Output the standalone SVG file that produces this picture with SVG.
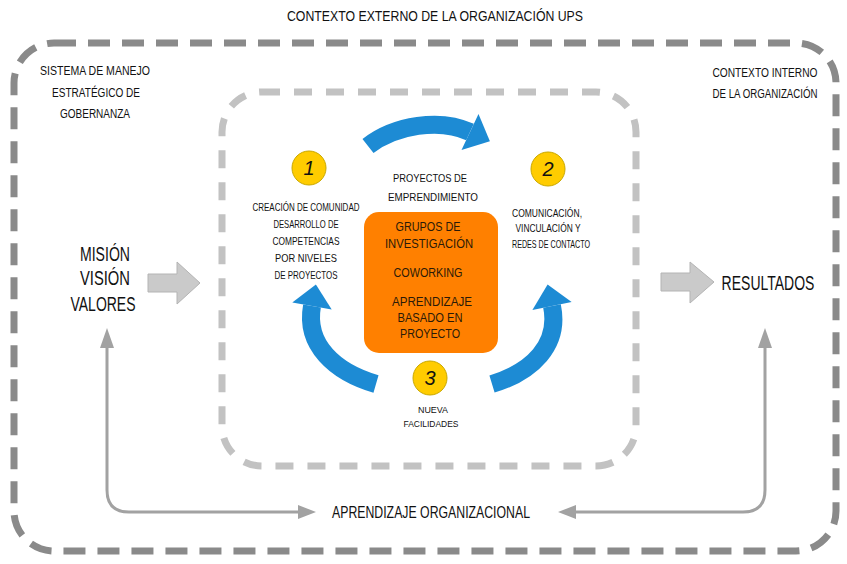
<svg xmlns="http://www.w3.org/2000/svg" width="847" height="564" viewBox="0 0 847 564">
<style>
.t{font-family:"Liberation Sans","DejaVu Sans",sans-serif;fill:#111;text-anchor:middle}
.s{font-size:11px}
.m{font-size:12px}
.big{font-size:20px}
.o{font-size:12.5px;fill:#2a1a08}
.num{font-family:"Liberation Sans",sans-serif;font-size:20px;fill:#111;text-anchor:middle;font-style:italic}
.blue{fill:none;stroke:#1d8bd4;stroke-width:18}
.bh{fill:#1d8bd4}
.gl{fill:none;stroke:#a2a2a2;stroke-width:3}
.gh{fill:#a2a2a2}
.ga{fill:#cacaca;stroke:#b4b4b4;stroke-width:1}
.yc{fill:#ffcc00;stroke:#c9a800;stroke-width:1}
</style>
<rect width="847" height="564" fill="#ffffff"/>
<g id="frames">
<rect x="14" y="43" width="822" height="508" rx="40" fill="none" stroke="#8a8a8a" stroke-width="7" stroke-dasharray="22 12"/>
<rect x="222" y="92" width="414" height="374" rx="40" fill="none" stroke="#c2c2c2" stroke-width="7" stroke-dasharray="18 14"/>
</g>
<g id="title"><text class="t" x="435" y="21" font-size="15" textLength="296" lengthAdjust="spacingAndGlyphs">CONTEXTO EXTERNO DE LA ORGANIZACIÓN UPS</text></g>
<g id="sistema">
<text class="t m" x="95" y="75" textLength="110" lengthAdjust="spacingAndGlyphs">SISTEMA DE MANEJO</text>
<text class="t m" x="96" y="97" textLength="88" lengthAdjust="spacingAndGlyphs">ESTRATÉGICO DE</text>
<text class="t m" x="95" y="118" textLength="70" lengthAdjust="spacingAndGlyphs">GOBERNANZA</text>
</g>
<g id="contexto-interno">
<text class="t m" x="765" y="77" textLength="105" lengthAdjust="spacingAndGlyphs">CONTEXTO INTERNO</text>
<text class="t m" x="765" y="98" textLength="105" lengthAdjust="spacingAndGlyphs">DE LA ORGANIZACIÓN</text>
</g>
<g id="mision">
<text class="t big" x="105" y="261" textLength="50" lengthAdjust="spacingAndGlyphs">MISIÓN</text>
<text class="t big" x="105" y="285" textLength="50" lengthAdjust="spacingAndGlyphs">VISIÓN</text>
<text class="t big" x="103" y="311" textLength="65" lengthAdjust="spacingAndGlyphs">VALORES</text>
</g>
<g id="resultados"><text class="t big" transform="translate(768,290) scale(0.7,1)" x="0" y="0">RESULTADOS</text></g>
<g id="aprendizaje-org"><text class="t" x="431" y="518" font-size="17" textLength="198" lengthAdjust="spacingAndGlyphs">APRENDIZAJE ORGANIZACIONAL</text></g>
<g id="centro">
<rect x="364" y="212" width="134" height="141" rx="15" fill="#ff8000"/>
<text class="t o" x="428" y="231" textLength="65" lengthAdjust="spacingAndGlyphs">GRUPOS DE</text>
<text class="t o" x="429" y="248" textLength="88" lengthAdjust="spacingAndGlyphs">INVESTIGACIÓN</text>
<text class="t o" x="428" y="277" textLength="69" lengthAdjust="spacingAndGlyphs">COWORKING</text>
<text class="t o" x="432" y="306" textLength="80" lengthAdjust="spacingAndGlyphs">APRENDIZAJE</text>
<text class="t o" x="430" y="322" textLength="65" lengthAdjust="spacingAndGlyphs">BASADO EN</text>
<text class="t o" x="430" y="338" textLength="60" lengthAdjust="spacingAndGlyphs">PROYECTO</text>
</g>
<g id="paso1">
<circle class="yc" cx="309" cy="168" r="17"/>
<text class="num" x="309" y="175">1</text>
<text class="t s" x="306" y="211" textLength="107" lengthAdjust="spacingAndGlyphs">CREACIÓN DE COMUNIDAD</text>
<text class="t s" x="306" y="228" textLength="65" lengthAdjust="spacingAndGlyphs">DESARROLLO DE</text>
<text class="t s" x="306" y="245" textLength="67" lengthAdjust="spacingAndGlyphs">COMPETENCIAS</text>
<text class="t s" x="306" y="262" textLength="62" lengthAdjust="spacingAndGlyphs">POR NIVELES</text>
<text class="t s" x="306" y="279" textLength="63" lengthAdjust="spacingAndGlyphs">DE PROYECTOS</text>
</g>
<g id="emprendimiento">
<text class="t s" x="430" y="182" textLength="74" lengthAdjust="spacingAndGlyphs">PROYECTOS DE</text>
<text class="t s" x="433" y="201" textLength="90" lengthAdjust="spacingAndGlyphs">EMPRENDIMIENTO</text>
</g>
<g id="paso2">
<circle class="yc" cx="548" cy="169" r="17"/>
<text class="num" x="548" y="176">2</text>
<text class="t s" x="547" y="217" textLength="70" lengthAdjust="spacingAndGlyphs">COMUNICACIÓN,</text>
<text class="t s" x="548" y="232" textLength="65" lengthAdjust="spacingAndGlyphs">VINCULACIÓN Y</text>
<text class="t s" x="551" y="248" textLength="78" lengthAdjust="spacingAndGlyphs">REDES DE CONTACTO</text>
</g>
<g id="paso3">
<circle class="yc" cx="430" cy="378" r="17"/>
<text class="num" x="430" y="385">3</text>
<text class="t" x="433" y="413" font-size="9" textLength="30" lengthAdjust="spacingAndGlyphs">NUEVA</text>
<text class="t" x="431" y="427" font-size="9" textLength="55" lengthAdjust="spacingAndGlyphs">FACILIDADES</text>
</g>
<g id="connectors">
<path class="blue" d="M368 146 C395 125 440 118 470 132"/>
<polygon class="bh" points="461.5,150.1 478.5,113.9 489.9,141.3"/>
<path class="blue" d="M376 384 C335 372 305 345 312 306"/>
<polygon class="bh" points="331.7,309.5 292.3,302.5 315.9,284.4"/>
<path class="blue" d="M492 384 C532 372 560 345 552 306"/>
<polygon class="bh" points="571.6,302 532.4,310 547.6,284.4"/>
<polygon class="ga" points="148,274 177,274 177,262 200,283 177,304 177,292 148,292"/>
<polygon class="ga" points="661,273 690,273 690,262 714,282 690,303 690,291 661,291"/>
<path class="gl" d="M107 345 L107 490 Q107 512 129 512 L300 512"/>
<polygon class="gh" points="100,348 114,348 107,328"/>
<polygon class="gh" points="298,505 298,519 316,512"/>
<path class="gl" d="M765 345 L765 490 Q765 512 743 512 L574 512"/>
<polygon class="gh" points="758,348 772,348 765,328"/>
<polygon class="gh" points="576,505 576,519 558,512"/>
</g>
</svg>
